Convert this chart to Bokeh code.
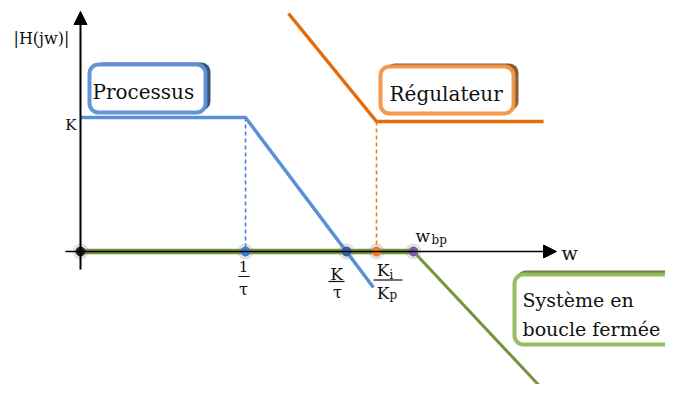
from bokeh.plotting import figure
from bokeh.models import Range1d, BoxAnnotation, Arrow, NormalHead, ColumnDataSource
from bokeh.core.properties import value
from bokeh.embed import file_html
from bokeh.resources import INLINE

# ---- schematic data (origin = axes crossing, units ~ pixels) ----
axis_pts = ["0", "1/tau", "K/tau", "Ki/Kp", "wbp"]
axis_x = [0, 165, 266, 296, 333]
dot_colors = ["#222222", "#3f78c8", "#2f5f9e", "#e8801e", "#7a5aa6"]

K_level = 134
process_x = [0, 165, 293]
process_y = [134, 134, -36]

regulator_x = [208, 296, 463]
regulator_y = [238, 130, 130]

closed_x = [0, 333, 468]
closed_y = [0, 0, -144]

# page-pixel helpers for annotation layout
OX, OY = 80, 251
def px(x): return x - OX
def py(y): return OY - y

W, H = 665, 384
p = figure(width=W, height=H, output_backend="svg", toolbar_location=None,
           x_range=Range1d(px(0), px(W)), y_range=Range1d(py(H), py(0)),
           min_border=0, outline_line_color=None)
p.axis.visible = False
p.grid.visible = False
p.background_fill_color = "white"

FONT = value("DejaVu Serif")

# ---- boxes (shadow + framed box) ----
def framed(l, r, t, b, col, shadow, dx, dy):
    p.add_layout(BoxAnnotation(left=px(l + dx), right=px(r + dx), top=py(t - dy), bottom=py(b - dy),
                               fill_color=shadow, fill_alpha=0.85, line_color=None,
                               border_radius=9, level="underlay"))
    p.add_layout(BoxAnnotation(left=px(l), right=px(r), top=py(t), bottom=py(b),
                               fill_color="white", fill_alpha=1.0, line_color=col, line_width=4,
                               line_alpha=0.95, border_radius=9, level="underlay"))

framed(89, 205, 64, 112, "#5b8fd6", "#1c3558", 5, 2)
framed(380, 513, 66, 113, "#f39443", "#6e4216", 5, 3)
framed(514, 690, 274, 344, "#93bb58", "#4f6e24", 2, 4)

# ---- axes ----
p.add_layout(Arrow(end=NormalHead(size=13, fill_color="black", line_color="black"),
                   x_start=0, y_start=py(269), x_end=0, y_end=py(11),
                   line_color="black", line_width=2))
p.add_layout(Arrow(end=NormalHead(size=13, fill_color="black", line_color="black"),
                   x_start=px(65), y_start=0, x_end=px(556), y_end=0,
                   line_color="black", line_width=1.6))

# ---- dashed guides ----
p.segment(x0=[process_x[1]], y0=[K_level], x1=[process_x[1]], y1=[0],
          line_color="#4a82d0", line_width=1.6, line_dash="4 3")
p.segment(x0=[regulator_x[1]], y0=[regulator_y[1]], x1=[regulator_x[1]], y1=[0],
          line_color="#e8801e", line_width=1.6, line_dash="4 3")

# ---- asymptotic curves ----
p.line(process_x, process_y, line_color="#5b8fd6", line_width=3.5)
p.line(regulator_x, regulator_y, line_color="#e46c0a", line_width=3.5)
p.line(closed_x[:2], closed_y[:2], line_color="#77933c", line_width=5.5)
p.line(closed_x[1:], closed_y[1:], line_color="#77933c", line_width=3)

# ---- points on the frequency axis ----
src = ColumnDataSource(dict(x=axis_x, y=[0] * len(axis_x), c=dot_colors, n=axis_pts))
p.scatter("x", "y", source=src, size=15, color="#888888", alpha=0.22)
p.scatter("x", "y", source=src, size=9, fill_color="c", line_color="c")

# ---- texts (y = middle of the em box) ----
def txt(x, y, s, size, align="left"):
    p.text(x=[px(x)], y=[py(y)], text=[s], text_font=FONT, text_font_size=value(f"{size}px"),
           text_align=align, text_baseline="middle", text_color="#111111")

txt(13, 38, "|H(jw)|", 16)
txt(76, 124, "K", 15, align="right")
txt(92, 91, "Processus", 20)
txt(389, 93, "Régulateur", 20)
txt(522, 299, "Système en", 19)
txt(522, 328, "boucle fermée", 19)
txt(561, 252, "w", 19)

# fractions
txt(243, 265.5, "1", 15, align="center")
txt(243, 289, "τ", 16, align="center")
txt(336, 273, "K", 17, align="center")
txt(337, 292, "τ", 16, align="center")
txt(382.5, 269, "K", 17, align="center")
txt(389, 274.4, "i", 12)
txt(382.5, 292, "K", 17, align="center")
txt(389, 294.4, "p", 12)
p.segment(x0=[px(238), px(328), px(373)], y0=[py(276), py(281), py(279.5)],
          x1=[px(249), px(344), px(402)], y1=[py(276), py(281), py(279.5)],
          line_color="#111111", line_width=1.2)

# w_bp
txt(415, 235, "w", 17)
txt(431, 239.5, "bp", 12)

open("out.html", "w").write(file_html(p, INLINE))
